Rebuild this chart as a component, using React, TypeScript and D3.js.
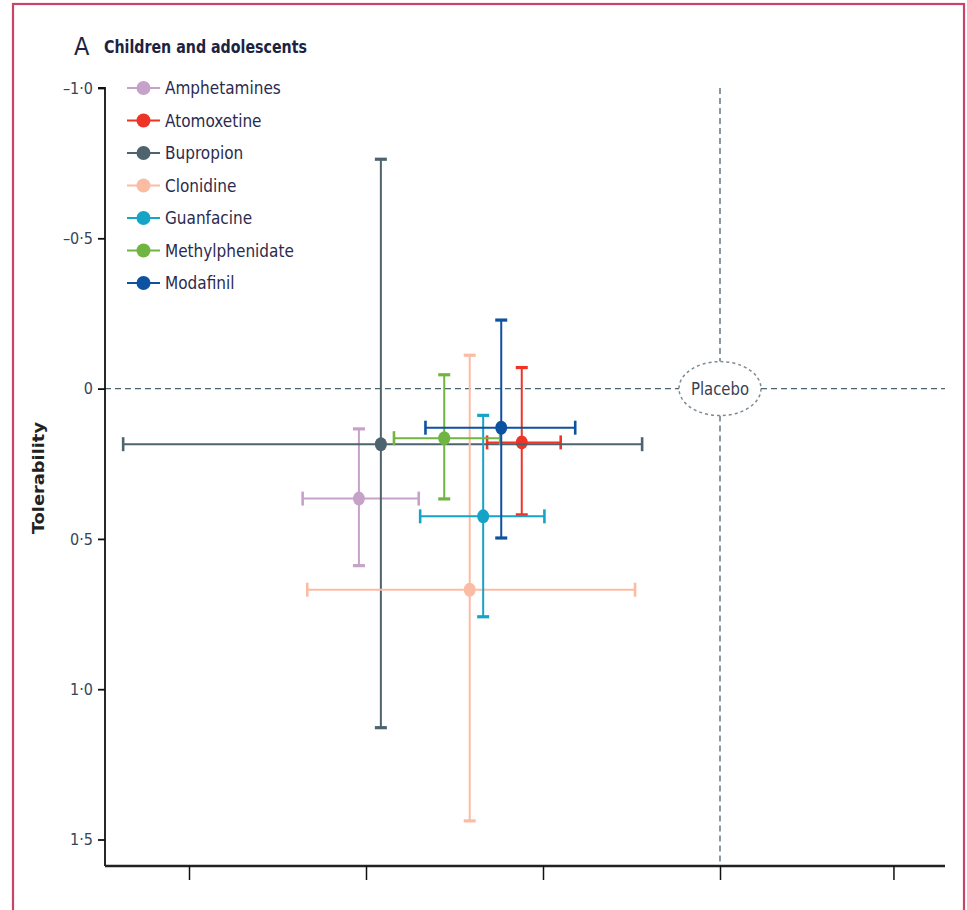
import React, { useEffect, useRef } from 'react';
import * as d3 from 'd3';

const drugs = ['Amphetamines', 'Atomoxetine', 'Bupropion', 'Clonidine', 'Guanfacine', 'Methylphenidate', 'Modafinil'];
const colors = ['#c6a2c8', '#ee3427', '#4d646e', '#fbbca4', '#16a3c8', '#70b542', '#0d52a0'];

// efficacy (x) point estimate and CI
const effX = [-1.02, -0.56, -0.958, -0.707, -0.669, -0.779, -0.618];
const effLo = [-1.179, -0.658, -1.686, -1.166, -0.847, -0.921, -0.832];
const effHi = [-0.851, -0.45, -0.22, -0.24, -0.496, -0.621, -0.409];

// tolerability (y) point estimate and CI
const tolY = [0.366, 0.179, 0.185, 0.669, 0.425, 0.165, 0.13];
const tolLo = [0.134, -0.07, -0.763, -0.111, 0.089, -0.046, -0.228];
const tolHi = [0.589, 0.42, 1.128, 1.438, 0.759, 0.367, 0.497];

const yTicks = [-1.0, -0.5, 0, 0.5, 1.0, 1.5];
const xTicks = [-1.5, -1.0, -0.5, 0, 0.49];

const FONT = "'Liberation Sans Narrow', 'DejaVu Sans Condensed', 'Open Sans', sans-serif";

const fmt = (v: number) => (v === 0 ? '0' : v.toFixed(1).replace('-', '\u2013').replace('.', '\u00b7'));

const App = () => {
  const svgRef = useRef<SVGSVGElement | null>(null);

  useEffect(() => {
    const svg = d3.select(svgRef.current);
    svg.selectAll('*').remove();

    const left = 105;
    const right = 945;
    const top = 88;
    const bottom = 866;

    const x = d3.scaleLinear().domain([0, 1]).range([720, 1074]);
    const y = d3.scaleLinear().domain([-1, 0]).range([88, 388.6]);

    // frame
    svg.append('rect')
      .attr('x', 13).attr('y', 4).attr('width', 951).attr('height', 940)
      .attr('fill', 'none').attr('stroke', '#c9446b').attr('stroke-width', 2.2);

    // title
    svg.append('text').attr('x', 74).attr('y', 55)
      .attr('font-family', FONT).attr('font-size', 25).attr('fill', '#1c2340').text('A');
    svg.append('text').attr('x', 104).attr('y', 53)
      .attr('font-family', FONT).attr('font-size', 18).attr('font-weight', 'bold').attr('fill', '#1c2340')
      .attr('textLength', 203).attr('lengthAdjust', 'spacingAndGlyphs')
      .text('Children and adolescents');

    // reference lines
    const dash = '6,4';
    const px0 = x(0);
    const py0 = y(0);
    const erx = 41;
    const ery = 27;
    svg.append('line').attr('x1', left).attr('x2', px0 - erx).attr('y1', py0).attr('y2', py0)
      .attr('stroke', '#4d646e').attr('stroke-width', 1.3).attr('stroke-dasharray', dash);
    svg.append('line').attr('x1', px0 + erx).attr('x2', right).attr('y1', py0).attr('y2', py0)
      .attr('stroke', '#4d646e').attr('stroke-width', 1.3).attr('stroke-dasharray', dash);
    svg.append('line').attr('x1', px0).attr('x2', px0).attr('y1', top).attr('y2', py0 - ery)
      .attr('stroke', '#4d646e').attr('stroke-width', 1.3).attr('stroke-dasharray', dash);
    svg.append('line').attr('x1', px0).attr('x2', px0).attr('y1', py0 + ery).attr('y2', bottom)
      .attr('stroke', '#4d646e').attr('stroke-width', 1.3).attr('stroke-dasharray', dash);
    svg.append('ellipse').attr('cx', px0).attr('cy', py0).attr('rx', erx).attr('ry', ery)
      .attr('fill', 'white').attr('stroke', '#7d8a93').attr('stroke-width', 1.5).attr('stroke-dasharray', '3,3');
    svg.append('text').attr('x', px0).attr('y', py0 + 6).attr('text-anchor', 'middle')
      .attr('font-family', FONT).attr('font-size', 17).attr('fill', '#3a4150')
      .attr('textLength', 58).attr('lengthAdjust', 'spacingAndGlyphs').text('Placebo');

    // axes
    const yAxis = svg.append('g').attr('transform', `translate(${left},0)`)
      .call(d3.axisLeft(y).tickValues(yTicks).tickSize(7).tickPadding(5).tickFormat((d) => fmt(+d)));
    yAxis.select('.domain').attr('d', `M-7,${top}H0V${bottom}`).attr('stroke', '#111').attr('stroke-width', 1.8);
    yAxis.selectAll('.tick line').attr('stroke', '#111').attr('stroke-width', 1.8);
    yAxis.selectAll('.tick text').attr('font-family', FONT).attr('font-size', 16).attr('fill', '#34465a');

    const xAxis = svg.append('g').attr('transform', `translate(0,${bottom})`)
      .call(d3.axisBottom(x).tickValues(xTicks).tickSize(14).tickFormat(() => ''));
    xAxis.select('.domain').attr('d', `M${left},0H${right}`).attr('stroke', '#222').attr('stroke-width', 2.6);
    xAxis.selectAll('.tick line').attr('stroke', '#111').attr('stroke-width', 1.5);

    svg.append('text')
      .attr('transform', `translate(44,478) rotate(-90)`)
      .attr('text-anchor', 'middle').attr('font-family', FONT).attr('font-size', 16)
      .attr('font-weight', 'bold').attr('fill', '#222')
      .attr('textLength', 112).attr('lengthAdjust', 'spacingAndGlyphs').text('Tolerability');

    // error bars
    const cap = 7;
    const g = svg.append('g');
    drugs.forEach((name, i) => {
      const c = colors[i];
      const cx = x(effX[i]);
      const cy = y(tolY[i]);
      const gi = g.append('g');
      // vertical
      gi.append('line').attr('x1', cx).attr('x2', cx).attr('y1', y(tolLo[i])).attr('y2', y(tolHi[i]))
        .attr('stroke', c).attr('stroke-width', 2);
      [tolLo[i], tolHi[i]].forEach((v) => {
        gi.append('line').attr('x1', cx - cap + 1).attr('x2', cx + cap - 1).attr('y1', y(v)).attr('y2', y(v))
          .attr('stroke', c).attr('stroke-width', 3.2);
      });
      // horizontal
      gi.append('line').attr('x1', x(effLo[i])).attr('x2', x(effHi[i])).attr('y1', cy).attr('y2', cy)
        .attr('stroke', c).attr('stroke-width', 2);
      [effLo[i], effHi[i]].forEach((v) => {
        gi.append('line').attr('x1', x(v)).attr('x2', x(v)).attr('y1', cy - cap).attr('y2', cy + cap)
          .attr('stroke', c).attr('stroke-width', 2.6);
      });
      gi.append('ellipse').attr('cx', cx).attr('cy', cy).attr('rx', 6).attr('ry', 7).attr('fill', c);
    });

    // legend
    const legend = svg.append('g').attr('transform', 'translate(127,88)');
    drugs.forEach((name, i) => {
      const ly = i * 32.5;
      legend.append('line').attr('x1', 0).attr('x2', 33).attr('y1', ly).attr('y2', ly)
        .attr('stroke', colors[i]).attr('stroke-width', 2);
      legend.append('circle').attr('cx', 16.5).attr('cy', ly).attr('r', 7).attr('fill', colors[i]);
      legend.append('text').attr('x', 38).attr('y', ly + 6)
        .attr('font-family', FONT).attr('font-size', 17).attr('fill', '#2b2b4e').text(name);
    });
  }, []);

  return (
    <svg
      ref={svgRef}
      width={967}
      height={910}
      style={{ position: 'absolute', left: 0, top: 0, background: 'white' }}
    />
  );
};

export default App;
